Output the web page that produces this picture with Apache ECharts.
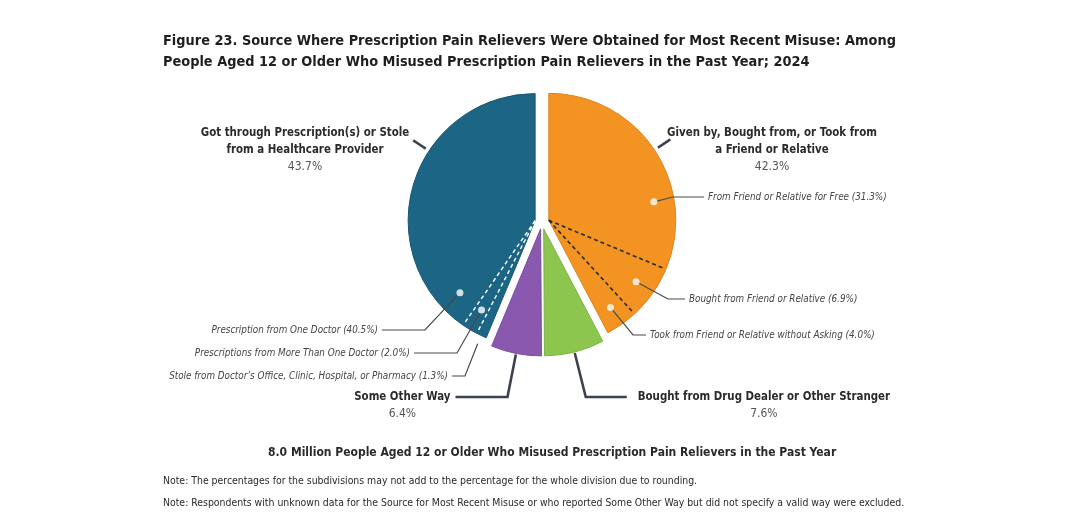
<!DOCTYPE html>
<html lang="en">
<head>
<meta charset="UTF-8">
<title>Figure 23</title>
<script src="https://cdn.jsdelivr.net/npm/echarts@6/dist/echarts.min.js"></script>
<style>
  html, body { margin: 0; padding: 0; background: #fff; }
  #chart { width: 1067px; height: 532px; }
</style>
</head>
<body>
<div id="chart"></div>
<script>
// main divisions, clockwise from 12 o'clock
const divisionNames = [
  'Given by, Bought from, or Took from\na Friend or Relative',
  'Bought from Drug Dealer or Other Stranger',
  'Some Other Way',
  'Got through Prescription(s) or Stole\nfrom a Healthcare Provider'
];
const divisionValues = [42.3, 7.6, 6.4, 43.7];

// subdivisions of the friend/relative slice (clockwise)
const friendNames = [
  'From Friend or Relative for Free',
  'Bought from Friend or Relative',
  'Took from Friend or Relative without Asking'
];
const friendValues = [31.3, 6.9, 4.0];

// subdivisions of the healthcare provider slice (clockwise)
const providerNames = [
  'Stole from Doctor\u2019s Office, Clinic, Hospital, or Pharmacy',
  'Prescriptions from More Than One Doctor',
  'Prescription from One Doctor'
];
const providerValues = [1.3, 2.0, 40.5];

const titleText = 'Figure 23. Source Where Prescription Pain Relievers Were Obtained for Most Recent Misuse: Among\nPeople Aged 12 or Older Who Misused Prescription Pain Relievers in the Past Year; 2024';
const subtitleText = '8.0 Million People Aged 12 or Older Who Misused Prescription Pain Relievers in the Past Year';
const noteTexts = [
  'Note: The percentages for the subdivisions may not add to the percentage for the whole division due to rounding.',
  'Note: Respondents with unknown data for the Source for Most Recent Misuse or who reported Some Other Way but did not specify a valid way were excluded.'
];

// layout
const CX = 542, CY = 222, R = 127, OFF = 7;
const NARROW = "'DejaVu Sans Condensed', 'Liberation Sans', sans-serif";
const colors = ['#f39322', '#8cc64e', '#8a58ae', '#1c6585'];
const edges = ['#dd8420', '#7fb445', '#7b4d9c', '#185873'];

const total = divisionValues.reduce((a, b) => a + b, 0);
const starts = [];
let acc = 0;
divisionValues.forEach(v => { starts.push(acc); acc += v; });

// pct -> unit vector, measured clockwise from top
function dir(pct) {
  const a = pct / total * 2 * Math.PI;
  return [Math.sin(a), -Math.cos(a)];
}
function apex(i) {
  const d = dir(starts[i] + divisionValues[i] / 2);
  return [CX + OFF * d[0], CY + OFF * d[1]];
}
function at(o, pct, r) {
  const d = dir(pct);
  return [o[0] + r * d[0], o[1] + r * d[1]];
}
function cum(base, values) {
  const out = [];
  let s = base;
  values.forEach(v => { out.push(s); s += v; });
  return out;
}
const friendStarts = cum(starts[0], friendValues);
const providerStarts = cum(starts[3], providerValues);

// where on each sub-slice the white dot sits
const friendAnchor = [0.71, 0.5, 0.5];
const providerAnchor = [0.5, 0.5, 0.08];
const DOT_R = [0.84, 0.82];
const mainAnchor = [0.37, 0.5, 0.5, 0.64];

// label placement
const topLabelX = [772, null, null, 305];
const TOP_LABEL_Y = 124.5;
const BOTTOM_Y = 397;
const tail = [0, 41, 52, 0];
const textGap = [0, 11, 5, 0];
const friendLabel = [[708, 197, 673], [689, 299, 668], [650, 335, 633]];
const providerLabel = [[448, 376, 465], [410, 353, 457], [378, 330, 425]];

const friendDot = k => friendStarts[k] + friendValues[k] * friendAnchor[k];
const providerDot = k => providerStarts[k] + providerValues[k] * providerAnchor[k];
const ARROW_R = 1.07;

const chart = echarts.init(document.getElementById('chart'));

const option = {
  backgroundColor: '#fff',
  animation: false,
  title: [
    {
      text: titleText, left: 163, top: 31, padding: 0,
      textStyle: { fontFamily: NARROW, fontWeight: 'bold', fontSize: 14.4, lineHeight: 21, color: '#1e1e1e' }
    },
    {
      text: subtitleText, left: 268, top: 445, padding: 0,
      textStyle: { fontFamily: NARROW, fontWeight: 'bold', fontSize: 12, lineHeight: 15, color: '#2a2a2a' }
    },
    {
      text: noteTexts[0], left: 163, top: 475, padding: 0,
      textStyle: { fontFamily: NARROW, fontWeight: 'normal', fontSize: 10.4, lineHeight: 13, color: '#2a2a2a' }
    },
    {
      text: noteTexts[1], left: 163, top: 497, padding: 0,
      textStyle: { fontFamily: NARROW, fontWeight: 'normal', fontSize: 10.4, lineHeight: 13, color: '#2a2a2a' }
    }
  ],
  polar: [
    { center: apex(0), radius: R },
    { center: apex(3), radius: R }
  ],
  angleAxis: [0, 1].map(k => ({
    polarIndex: k, type: 'value', min: 0, max: total, startAngle: 90, clockwise: true,
    show: false, axisLine: { show: false }, axisTick: { show: false }, axisLabel: { show: false }, splitLine: { show: false }
  })),
  radiusAxis: [0, 1].map(k => ({
    polarIndex: k, type: 'value', min: 0, max: 1,
    show: false, axisLine: { show: false }, axisTick: { show: false }, axisLabel: { show: false }, splitLine: { show: false }
  })),
  series: [
    // coloured slices, all pulled out a little
    {
      type: 'pie',
      center: [CX, CY],
      radius: [0, R],
      startAngle: 90,
      selectedMode: 'multiple',
      selectedOffset: OFF,
      silent: true,
      label: { show: false },
      labelLine: { show: false },
      data: divisionValues.map((v, i) => ({
        name: divisionNames[i], value: v, selected: true,
        itemStyle: { color: colors[i], borderColor: edges[i], borderWidth: 1 }
      })),
      z: 1
    },
    // main labels
    {
      type: 'pie',
      center: [CX, CY],
      radius: [0, R],
      startAngle: 90,
      silent: true,
      avoidLabelOverlap: false,
      itemStyle: { color: 'rgba(0,0,0,0)' },
      emphasis: { disabled: true },
      label: {
        show: true,
        formatter: p => p.name.split('\n').map(s => '{n|' + s + '}').join('\n') + '\n{p|' + p.value.toFixed(1) + '%}',
        rich: {
          n: { fontFamily: NARROW, fontWeight: 'bold', fontSize: 11.4, lineHeight: 17, color: '#2b2b2b' },
          p: { fontFamily: NARROW, fontSize: 12, lineHeight: 17, color: '#555' }
        }
      },
      labelLine: { show: true, lineStyle: { color: '#3c4350', width: 2.6 } },
      labelLayout: function (params) {
        const i = params.dataIndex;
        const o = apex(i);
        const mid = starts[i] + divisionValues[i] * mainAnchor[i];
        const w = params.labelRect.width;
        if (topLabelX[i] !== null) {
          return {
            x: topLabelX[i], y: TOP_LABEL_Y, align: 'center', verticalAlign: 'top',
            labelLinePoints: [at(o, mid, R + 4), at(o, mid, R + 11), at(o, mid, R + 19)]
          };
        }
        const d = dir(mid);
        const p1 = at(o, mid, (BOTTOM_Y - o[1]) / d[1]);
        const side = d[0] >= 0 ? 1 : -1;
        const p2 = [p1[0] + side * tail[i], BOTTOM_Y];
        return {
          x: p2[0] + side * (textGap[i] + w / 2), y: BOTTOM_Y - 8.5, align: 'center', verticalAlign: 'top',
          labelLinePoints: [at(o, mid, R + 1), p1, p2]
        };
      },
      data: divisionValues.map((v, i) => ({ name: divisionNames[i], value: v })),
      z: 3
    },
    // subdivision labels
    {
      type: 'pie',
      center: [CX, CY],
      radius: [0, R],
      startAngle: 90,
      silent: true,
      avoidLabelOverlap: false,
      itemStyle: { color: 'rgba(0,0,0,0)' },
      emphasis: { disabled: true },
      label: {
        show: true,
        formatter: p => p.name + ' (' + p.value.toFixed(1) + '%)',
        fontFamily: NARROW, fontStyle: 'italic', fontSize: 9.8, color: '#444'
      },
      labelLine: { show: true, lineStyle: { color: '#4a4a4a', width: 1.2 } },
      labelLayout: function (params) {
        const j = params.dataIndex;
        if (j < friendValues.length) {
          const pos = friendLabel[j];
          const dot = at(apex(0), friendDot(j), DOT_R[0] * R);
          return {
            x: pos[0], y: pos[1], align: 'left', verticalAlign: 'middle',
            labelLinePoints: [dot, [pos[2], pos[1]], [pos[0] - 4, pos[1]]]
          };
        }
        const k = j - friendValues.length;
        const pos = providerLabel[k];
        const r = k === 0 ? ARROW_R * R : DOT_R[1] * R;
        const dot = at(apex(3), providerDot(k), r);
        return {
          x: pos[0], y: pos[1], align: 'right', verticalAlign: 'middle',
          labelLinePoints: [dot, [pos[2], pos[1]], [pos[0] + 4, pos[1]]]
        };
      },
      data: friendValues.map((v, k) => ({ name: friendNames[k], value: v }))
        .concat(providerValues.map((v, k) => ({ name: providerNames[k], value: v }))),
      z: 3
    },
    // dashed dividers inside the friend slice
    ...friendStarts.slice(1).map(a => ({
      type: 'line', coordinateSystem: 'polar', polarIndex: 0, silent: true, symbol: 'none',
      lineStyle: { color: '#2a2a2a', width: 1.6, type: [4, 3] },
      data: [[0, a], [0.99, a]], z: 4
    })),
    // dashed dividers inside the provider slice
    ...providerStarts.slice(1).map(a => ({
      type: 'line', coordinateSystem: 'polar', polarIndex: 1, silent: true, symbol: 'none',
      lineStyle: { color: '#ffffff', width: 1.4, type: [4, 3] },
      data: [[0, a], [0.97, a]], z: 4
    })),
    // white dots
    {
      type: 'scatter', coordinateSystem: 'polar', polarIndex: 0, silent: true,
      symbolSize: 7, itemStyle: { color: '#fff' },
      data: friendValues.map((v, k) => [DOT_R[0], friendDot(k)]), z: 5
    },
    {
      type: 'scatter', coordinateSystem: 'polar', polarIndex: 1, silent: true,
      symbolSize: 7, itemStyle: { color: '#fff' },
      data: providerValues.slice(1).map((v, k) => [DOT_R[1], providerDot(k + 1)]), z: 5
    },
    // arrow pointing at the thin "stole" sub-slice
    {
      type: 'scatter', coordinateSystem: 'polar', polarIndex: 1, silent: true,
      symbol: 'triangle', symbolSize: [8, 9],
      symbolRotate: -((providerDot(0) / total * 360 + 180) % 360),
      itemStyle: { color: '#4a4a4a' },
      data: [[ARROW_R, providerDot(0)]], z: 5
    }
  ]
};

chart.setOption(option);
</script>
</body>
</html>
